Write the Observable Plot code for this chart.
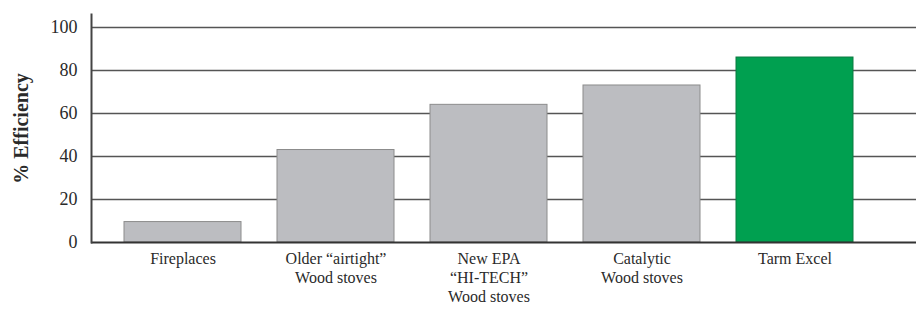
<!DOCTYPE html>
<html><head><meta charset="utf-8">
<script src="https://cdn.jsdelivr.net/npm/d3@7"></script>
<script src="https://cdn.jsdelivr.net/npm/@observablehq/plot@0.6"></script>
<style>body{margin:0;background:#fff}</style>
</head><body><div id="chart"></div>
<script>
const categories = ["Fireplaces", "Older", "NewEPA", "Catalytic", "Tarm"];
const categoryLabels = ["Fireplaces", "Older “airtight”\nWood stoves", "New EPA\n“HI-TECH”\nWood stoves", "Catalytic\nWood stoves", "Tarm Excel"];
const values = [9.5, 43, 64, 73, 86];
const highlighted = ["Tarm"];
const yTicks = [0, 20, 40, 60, 80, 100];

const data = categories.map((c, i) => ({category: c, value: values[i]}));
const labelOf = new Map(categories.map((c, i) => [c, categoryLabels[i]]));

const plot = Plot.plot({
  width: 916, height: 309,
  marginLeft: 91, marginRight: 0, marginTop: 14, marginBottom: 67,
  style: {fontFamily: "'Liberation Serif', 'Times New Roman', serif", background: "#fff", color: "#2a2a2a", overflow: "visible"},
  x: {domain: categories, range: [91, 886], paddingInner: 0.237, paddingOuter: 0.21, align: 0.5, axis: null},
  y: {domain: [0, 106], axis: null},
  marks: [
    Plot.ruleY(yTicks.slice(1), {stroke: "#555", strokeWidth: 1.5}),
    Plot.barY(data.filter(d => !highlighted.includes(d.category)), {x: "category", y: "value", fill: "#bcbdc1", stroke: "#8c8c8c", strokeWidth: 1}),
    Plot.barY(data.filter(d => highlighted.includes(d.category)), {x: "category", y: "value", fill: "#00a050", stroke: "#0b7a40", strokeWidth: 1}),
    Plot.ruleY([0], {stroke: "#333", strokeWidth: 2}),
    Plot.axisY({ticks: yTicks, tickSize: 0, tickPadding: 14, fontSize: 18, label: null}),
    Plot.axisY({ticks: [], label: "% Efficiency", labelAnchor: "center", labelArrow: "none", labelOffset: 78, fontSize: 20, fontWeight: "bold"}),
    Plot.axisX({tickSize: 0, tickPadding: 8, fontSize: 16, lineHeight: 1.19, tickFormat: d => labelOf.get(d), label: null}),
    Plot.frame({anchor: "left", stroke: "#444", strokeWidth: 2})
  ]
});
document.getElementById("chart").appendChild(plot);
</script>
</body></html>
